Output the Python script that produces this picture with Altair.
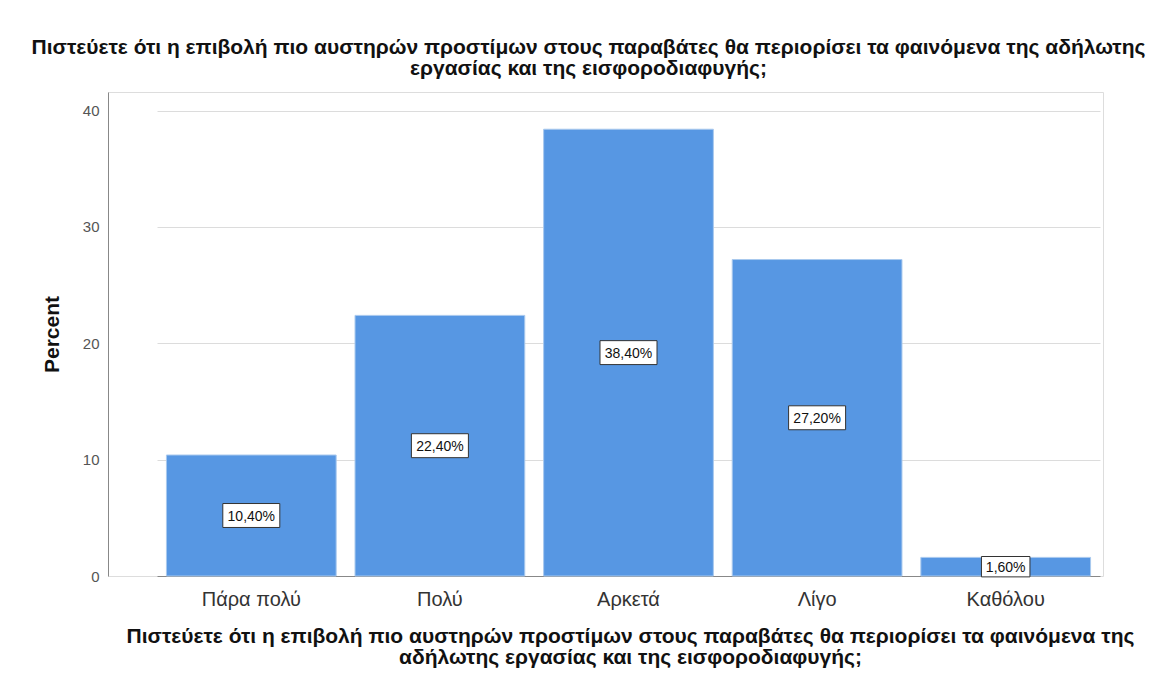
import altair as alt
import pandas as pd

categories = ["Πάρα πολύ", "Πολύ", "Αρκετά", "Λίγο", "Καθόλου"]
percents = [10.4, 22.4, 38.4, 27.2, 1.6]
labels = ["10,40%", "22,40%", "38,40%", "27,20%", "1,60%"]

question = ["Πιστεύετε ότι η επιβολή πιο αυστηρών προστίμων στους παραβάτες θα περιορίσει τα φαινόμενα της αδήλωτης",
            "εργασίας και της εισφοροδιαφυγής;"]
xtitle = ["Πιστεύετε ότι η επιβολή πιο αυστηρών προστίμων στους παραβάτες θα περιορίσει τα φαινόμενα της",
          "αδήλωτης εργασίας και της εισφοροδιαφυγής;"]

df = pd.DataFrame({"cat": categories, "pct": percents, "label": labels})

FONT = "Liberation Sans"

x = alt.X("cat:N", sort=categories,
          scale=alt.Scale(range=[49, 992], paddingInner=0.1, paddingOuter=0.05),
          axis=alt.Axis(title=xtitle, labelAngle=0, labelFontSize=20, labelColor="#333333",
                        labelFont=FONT, labelPadding=13, ticks=False, domainColor="#888888",
                        titleFont=FONT, titleFontSize=21, titleFontWeight="bold", titleColor="#111111",
                        titlePadding=16, titleX=522, titleLineHeight=21))

bars = alt.Chart(df).mark_bar(color="#5797E3", stroke="#A9C9EE", strokeWidth=1).encode(
    x=x,
    y=alt.Y("pct:Q", scale=alt.Scale(domain=[0, 41.6], nice=False),
            axis=alt.Axis(title="Percent", values=[0, 10, 20, 30, 40], ticks=False,
                          labelFontSize=15, labelColor="#555555", labelFont=FONT, labelPadding=9,
                          titleFont=FONT, titleFontSize=21, titleFontWeight="bold", titleColor="#111111",
                          titlePadding=20, gridColor="#dcdcdc", domainColor="#888888")),
)

boxes = alt.Chart(df).transform_calculate(
    mid="datum.pct / 2",
    bs="pow(length(datum.label) * 8.5 + 6, 2)"
).mark_point(shape="M-1,-0.42L1,-0.42L1,0.42L-1,0.42Z", filled=True, fill="white",
             stroke="#333333", strokeWidth=1, opacity=1).encode(
    x=alt.X("cat:N", sort=categories),
    y=alt.Y("mid:Q"),
    size=alt.Size("bs:Q", scale=None),
)

texts = alt.Chart(df).transform_calculate(mid="datum.pct / 2").mark_text(
    font=FONT, fontSize=14, color="#111111", baseline="middle", dy=1
).encode(
    x=alt.X("cat:N", sort=categories),
    y=alt.Y("mid:Q"),
    text="label:N",
)

chart = alt.layer(bars, boxes, texts).properties(
    width=995, height=484,
    padding={"left": 23, "top": 29, "right": 10, "bottom": 5},
    title=alt.TitleParams(text=question, font=FONT, fontSize=21, fontWeight="bold", color="#111111",
                          lineHeight=21, offset=13, anchor="middle", dx=-17),
).configure_view(stroke=None).configure(background="white")

chart.save("out.html", embed_options={"renderer": "svg", "actions": False})
